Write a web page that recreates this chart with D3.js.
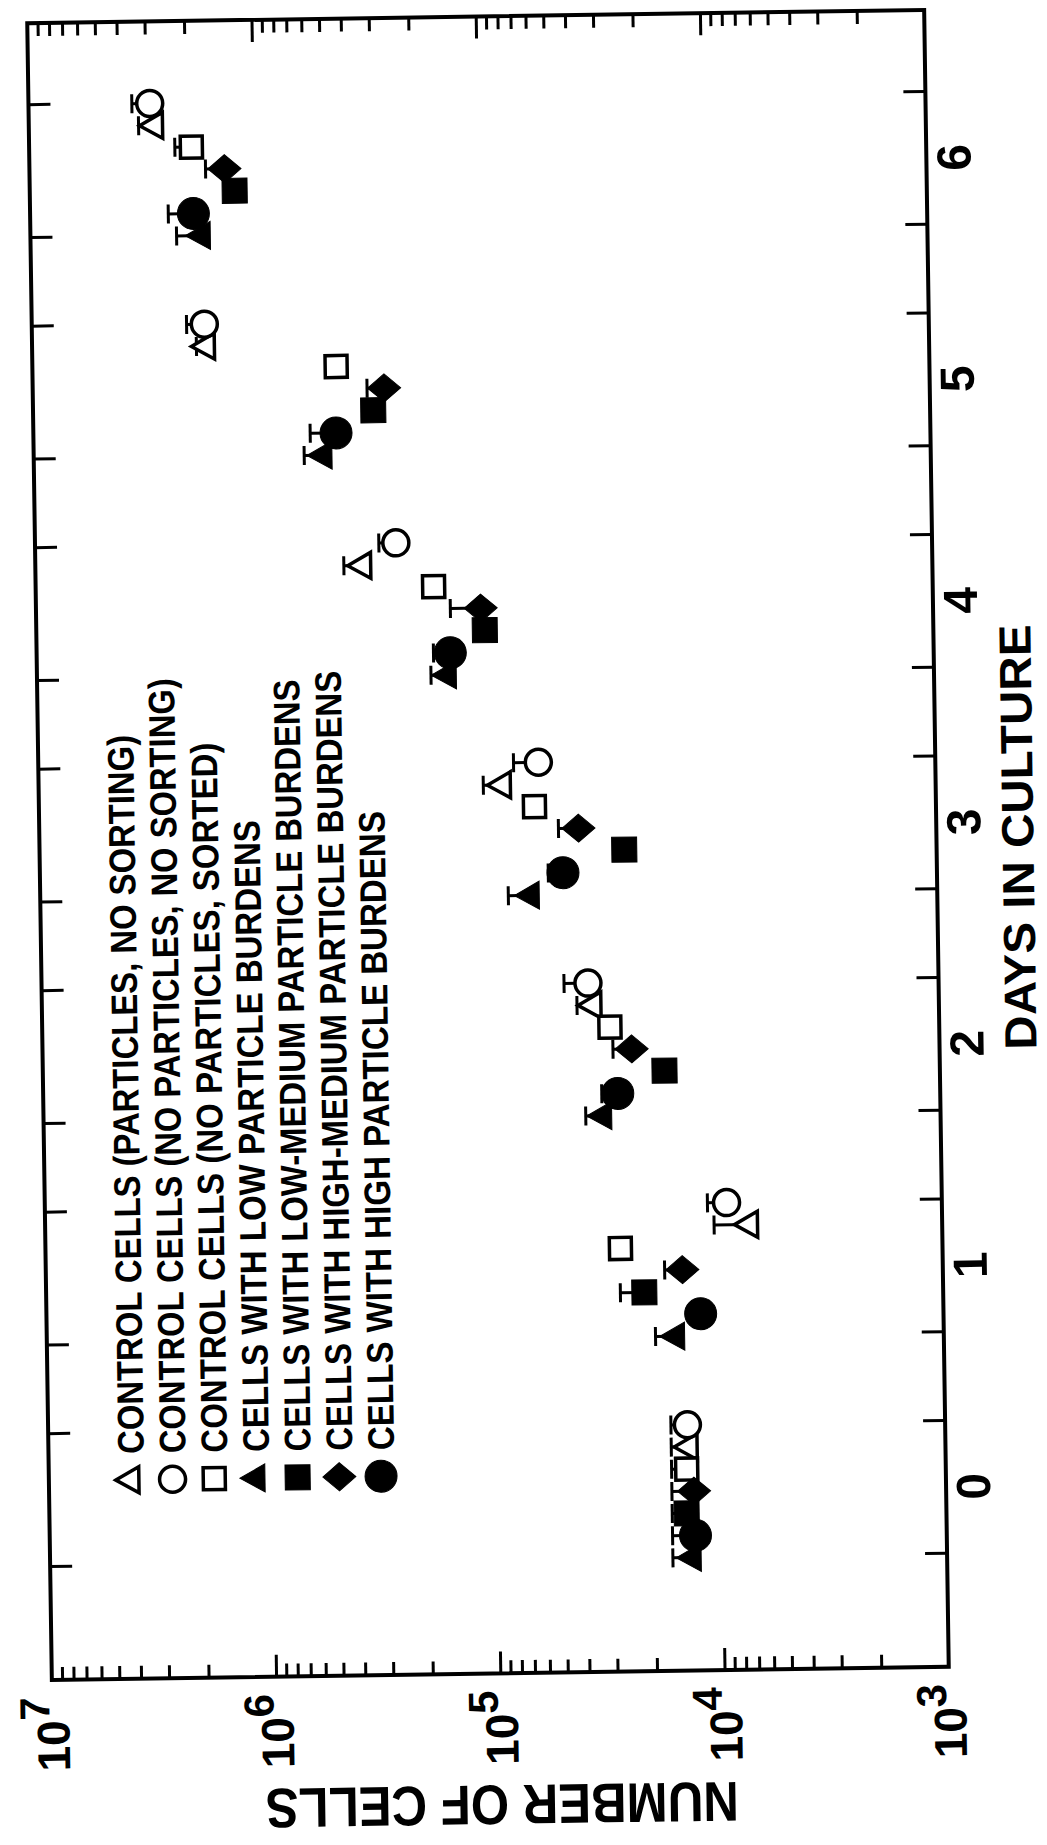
<!DOCTYPE html>
<html lang="en">
<head>
<meta charset="UTF-8">
<title>Number of cells vs days in culture</title>
<script src="https://cdn.jsdelivr.net/npm/d3@7"></script>
<style>
  body { margin: 0; background: #fff; }
  svg { display: block; background: #fff; }
  text {
    font-family: "Liberation Sans", Arial, Helvetica, sans-serif;
    font-weight: bold;
    fill: #000;
  }
</style>
</head>
<body>
<svg width="1047" height="1845"></svg>
<script>
// ---- data ----
var days = [0, 1, 2, 3, 4, 5, 6];
var ctrlParticles        = [13900, 7230, 34900, 85500, 347000, 1670000, 2750000];
var ctrlParticlesUpper   = [16700, 10400, 41100, 104000, 421000, 1850000, 3240000];
var ctrlNoParticles      = [14100, 9120, 36600, 58900, 246000, 1700000, 2880000];
var ctrlNoParticlesUpper = [16700, 11100, 46800, 76000, 293000, 2040000, 3460000];
var ctrlSorted           = [14300, 27300, 29400, 61700, 168000, 442000, 1890000];
var ctrlSortedUpper      = [16700, null, null, null, null, null, 2240000];
var lowBurden            = [13700, 15700, 32100, 65300, 148000, 513000, 1730000];
var lowBurdenUpper       = [16700, 19300, 38200, 81800, 175000, 622000, 2230000];
var lowMedBurden         = [14400, 21500, 16900, 24700, 100000, 304000, 1220000];
var lowMedBurdenUpper    = [16700, 27500, null, null, null, null, null];
var highMedBurden        = [13300, 14500, 23600, 39400, 104000, 271000, 1350000];
var highMedBurdenUpper   = [16700, 17400, 28600, 48400, 142000, 323000, 1640000];
var highBurden           = [13200, 12100, 27400, 46500, 143000, 447000, 1870000];
var highBurdenUpper      = [16700, null, 32300, 54100, 170000, 583000, 2420000];

var legendLabels = [
    "CONTROL CELLS (PARTICLES, NO SORTING)",
    "CONTROL CELLS (NO PARTICLES, NO SORTING)",
    "CONTROL CELLS (NO PARTICLES, SORTED)",
    "CELLS WITH LOW PARTICLE BURDENS",
    "CELLS WITH LOW-MEDIUM PARTICLE BURDENS",
    "CELLS WITH HIGH-MEDIUM PARTICLE BURDENS",
    "CELLS WITH HIGH PARTICLE BURDENS"
];
var decades = [3, 4, 5, 6, 7];

// series table, legend order
var series = [
    {label: legendLabels[0], values: ctrlParticles,   upper: ctrlParticlesUpper,   shape: "triangle", filled: false, dodge: 0.2},
    {label: legendLabels[1], values: ctrlNoParticles, upper: ctrlNoParticlesUpper, shape: "circle",   filled: false, dodge: 0.3},
    {label: legendLabels[2], values: ctrlSorted,      upper: ctrlSortedUpper,      shape: "square",   filled: false, dodge: 0.1},
    {label: legendLabels[3], values: lowBurden,       upper: lowBurdenUpper,       shape: "triangle", filled: true,  dodge: -0.3},
    {label: legendLabels[4], values: lowMedBurden,    upper: lowMedBurdenUpper,    shape: "square",   filled: true,  dodge: -0.1},
    {label: legendLabels[5], values: highMedBurden,   upper: highMedBurdenUpper,   shape: "diamond",  filled: true,  dodge: 0},
    {label: legendLabels[6], values: highBurden,      upper: highBurdenUpper,      shape: "circle",   filled: true,  dodge: -0.2}
];
var legendLengths = [719, 775, 710, 632, 772, 780, 639];

// ---- layout: the chart is drawn landscape, then turned on its side ----
var W = 1657, H = 897;
var CX = 488, CY = 845, ANGLE = -90.85;

var svg = d3.select("svg");
var g = svg.append("g")
    .attr("transform", "translate(" + CX + "," + CY + ") rotate(" + ANGLE + ") translate(" + (-W / 2) + "," + (-H / 2) + ")");

var x = d3.scaleLinear().domain([-0.81, 6.67]).range([0, W]);
var y = d3.scaleLog().domain([1e3, 1e7]).range([H, 0]);

function isMajor(v) {
    var l = Math.log10(v);
    return Math.abs(l - Math.round(l)) < 1e-6;
}

var dayTicks = [];
days.forEach(function (d) { dayTicks.push(d - 0.3, d + 0.3); });
var logTicks = y.ticks().filter(function (v) { return v > 1e3 && v < 1e7; });

function styleTicks(sel) {
    sel.select(".domain").remove();
    sel.selectAll(".tick line").attr("stroke", "#000").attr("stroke-width", 3);
}

// inward ticks on all four sides
g.append("g").attr("transform", "translate(0," + H + ")")
    .call(d3.axisBottom(x).tickValues(dayTicks).tickSize(-22).tickFormat(""))
    .call(styleTicks);
g.append("g")
    .call(d3.axisTop(x).tickValues(dayTicks).tickSize(-22).tickFormat(""))
    .call(styleTicks);
g.append("g")
    .call(d3.axisLeft(y).tickValues(logTicks).tickSize(-22).tickFormat(""))
    .call(styleTicks)
    .selectAll(".tick line").attr("x2", function (d) { return isMajor(d) ? 22 : 13; });
g.append("g").attr("transform", "translate(" + W + ",0)")
    .call(d3.axisRight(y).tickValues(logTicks).tickSize(-22).tickFormat(""))
    .call(styleTicks)
    .selectAll(".tick line").attr("x2", function (d) { return isMajor(d) ? -22 : -13; });

g.append("rect")
    .attr("width", W).attr("height", H)
    .attr("fill", "none").attr("stroke", "#000").attr("stroke-width", 4);

// day labels
var dayAxis = g.append("g").attr("transform", "translate(0," + H + ")")
    .call(d3.axisBottom(x).tickValues(days).tickSize(0).tickPadding(10).tickFormat(d3.format("d")));
dayAxis.select(".domain").remove();
dayAxis.attr("font-family", null).attr("font-size", null);
dayAxis.selectAll("text").attr("font-size", 48);

// cell count labels 10^n
var cellLabels = g.append("g").selectAll("text")
    .data(decades).enter().append("text")
    .attr("x", -17)
    .attr("y", function (e) { return y(Math.pow(10, e)) + 17; })
    .attr("text-anchor", "end");
cellLabels.append("tspan").attr("font-size", 46).text("10");
cellLabels.append("tspan").attr("font-size", 42).attr("dy", -20).text(function (e) { return e; });

// axis titles
g.append("text")
    .attr("x", W / 2).attr("y", H + 97)
    .attr("text-anchor", "middle")
    .attr("font-size", 45)
    .attr("textLength", 425).attr("lengthAdjust", "spacingAndGlyphs")
    .text("DAYS IN CULTURE");
g.append("text")
    .attr("transform", "translate(-112," + (H / 2) + ") rotate(-90)")
    .attr("text-anchor", "middle")
    .attr("font-size", 56)
    .attr("textLength", 473).attr("lengthAdjust", "spacingAndGlyphs")
    .text("NUMBER OF CELLS");

// marker shapes
function shapePath(shape, filled) {
    var p = d3.path();
    if (shape === "circle") {
        var r = filled ? 16 : 13;
        p.arc(0, 0, r, 0, 2 * Math.PI);
    } else if (shape === "square") {
        var s = filled ? 12.5 : 11;
        p.rect(-s, -s, 2 * s, 2 * s);
    } else if (shape === "triangle") {
        var b = filled ? 14 : 13, t = filled ? -16 : -15, u = filled ? 9 : 8;
        p.moveTo(0, t); p.lineTo(b, u); p.lineTo(-b, u); p.closePath();
    } else if (shape === "diamond") {
        p.moveTo(0, -16.5); p.lineTo(14, 0); p.lineTo(0, 16.5); p.lineTo(-14, 0); p.closePath();
    }
    return p.toString();
}
function drawMarker(sel, s) {
    sel.append("path")
        .attr("d", shapePath(s.shape, s.filled))
        .attr("fill", s.filled ? "#000" : "#fff")
        .attr("stroke", "#000")
        .attr("stroke-width", s.filled ? 1 : 3.5);
}

// error bars (upper only)
var errG = g.append("g").attr("stroke", "#000").attr("stroke-width", 3);
series.forEach(function (s) {
    days.forEach(function (d, i) {
        if (s.upper[i] == null) return;
        var px = x(d + s.dodge);
        errG.append("line")
            .attr("x1", px).attr("x2", px)
            .attr("y1", y(s.values[i])).attr("y2", y(s.upper[i]));
        errG.append("line")
            .attr("x1", px - 9.5).attr("x2", px + 9.5)
            .attr("y1", y(s.upper[i])).attr("y2", y(s.upper[i]));
    });
});

// points: open markers first, filled on top
var ptsG = g.append("g");
series.filter(function (s) { return !s.filled; }).concat(series.filter(function (s) { return s.filled; }))
    .forEach(function (s) {
        ptsG.selectAll(null)
            .data(days).enter().append("g")
            .attr("transform", function (d, i) {
                return "translate(" + x(d + s.dodge) + "," + y(s.values[i]) + ")";
            })
            .each(function () { drawMarker(d3.select(this), s); });
    });

// legend
var legend = g.append("g").attr("transform", "translate(199,82)");
var rows = legend.selectAll("g").data(series).enter().append("g")
    .attr("transform", function (d, i) { return "translate(0," + (i * 41.7) + ")"; });
rows.each(function (s) { drawMarker(d3.select(this), s); });
rows.append("text")
    .attr("x", 26).attr("dy", "0.36em")
    .attr("font-size", 37)
    .attr("textLength", function (d, i) { return legendLengths[i]; })
    .attr("lengthAdjust", "spacingAndGlyphs")
    .text(function (d) { return d.label; });
</script>
</body>
</html>
